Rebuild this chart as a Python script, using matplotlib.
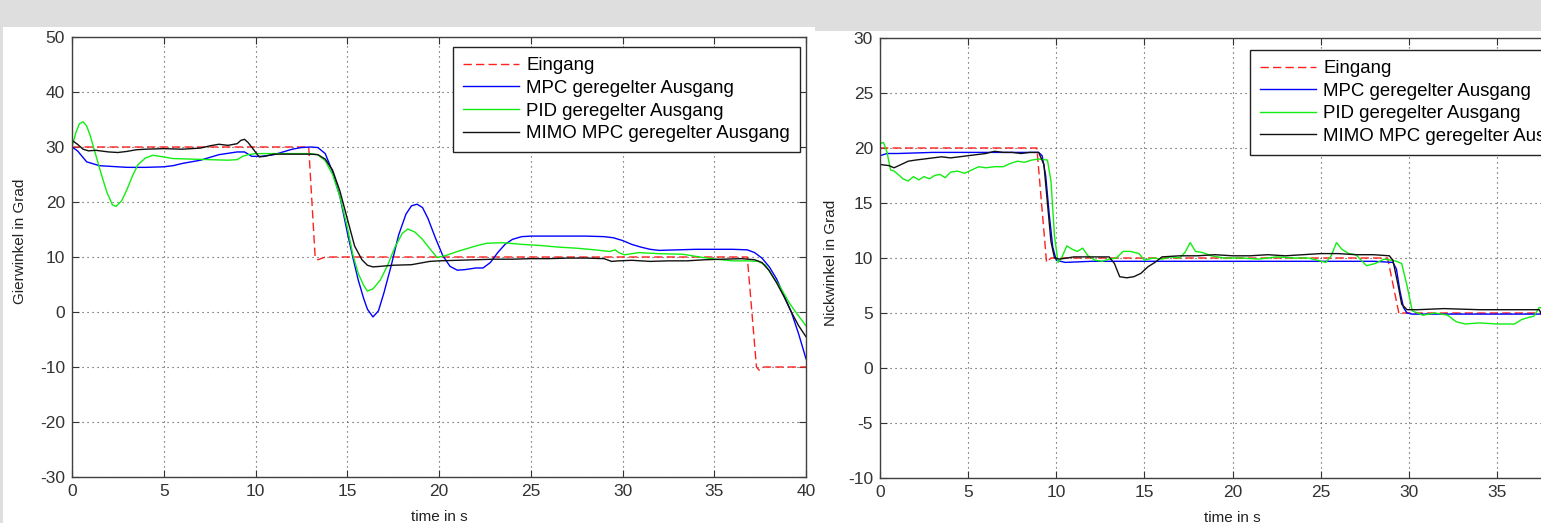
import matplotlib
matplotlib.use("Agg")
from matplotlib import pyplot as plt
from matplotlib.patches import Rectangle

plt.rcParams['font.family'] = ['Liberation Sans', 'DejaVu Sans']
plt.rcParams['axes.unicode_minus'] = False

labels = ['Eingang', 'MPC geregelter Ausgang', 'PID geregelter Ausgang', 'MIMO MPC geregelter Ausgang']

# Gierwinkel (left panel)
yaw_in_t = [0, 12.9, 13.25, 13.4, 13.8, 36.8, 37.3, 37.45, 37.7, 40]
yaw_in = [30, 30, 10, 9.5, 10, 10, -10, -10.6, -10, -10]

yaw_mpc_t = [0, 0.3, 0.8, 1.5, 2, 3, 4, 5, 5.5, 6, 7, 8, 9, 9.4, 9.8, 10.3, 11, 11.5, 12, 12.5, 13,
             13.4, 13.8, 14.2, 14.6, 15.0, 15.3, 15.6, 15.9, 16.1, 16.4, 16.7, 17.0, 17.4, 17.8, 18.2,
             18.5, 18.8, 19.1, 19.4, 19.8, 20.2, 20.6, 21.0, 21.4, 22.0, 22.4, 22.8, 23.2, 23.6, 24.0,
             24.5, 25, 26, 27, 28, 29, 29.5, 30, 30.5, 31, 31.5, 32, 33, 34, 35, 36, 36.8, 37.2, 37.6,
             38.0, 38.4, 38.8, 39.2, 39.6, 40]
yaw_mpc = [30, 29.3, 27.3, 26.6, 26.5, 26.3, 26.3, 26.4, 26.6, 27.0, 27.6, 28.6, 29.1, 29.1, 28.3, 28.3,
           28.6, 29.1, 29.6, 29.9, 30.0, 29.9, 28.8, 25.5, 21.0, 14.5, 10.0, 5.8, 2.4, 0.5, -0.9, 0.2,
           3.5, 8.5, 14.0, 17.8, 19.3, 19.6, 19.0, 17.0, 13.5, 10.3, 8.3, 7.6, 7.7, 8.0, 8.0, 9.0, 10.8,
           12.3, 13.2, 13.7, 13.8, 13.8, 13.8, 13.8, 13.7, 13.5, 13.0, 12.3, 11.8, 11.4, 11.2, 11.3,
           11.4, 11.4, 11.4, 11.3, 10.8, 9.8, 8.2, 6.0, 3.0, 0.0, -4.0, -8.5]

yaw_pid_t = [0, 0.2, 0.4, 0.6, 0.8, 1.0, 1.3, 1.6, 1.9, 2.2, 2.4, 2.7, 3.0, 3.3, 3.6, 4.0, 4.4, 4.8, 5.5,
             6.5, 7.5, 8.5, 9.0, 9.3, 9.6, 10, 11, 12, 13, 13.4, 13.8, 14.2, 14.6, 15.0, 15.3, 15.6, 15.9,
             16.1, 16.4, 16.8, 17.2, 17.6, 18.0, 18.3, 18.7, 19.1, 19.5, 19.9, 20.4, 21, 22, 22.6, 23.5,
             24.5, 25.5, 26.5, 27.5, 28.5, 29.3, 29.6, 29.8, 30.1, 30.9, 32, 33.3, 34.2, 35.1, 36, 36.8,
             37.4, 37.8, 38.2, 38.6, 39.1, 39.5, 40]
yaw_pid = [30, 32.5, 34.2, 34.6, 33.8, 32.0, 28.5, 25.0, 21.8, 19.5, 19.2, 20.2, 22.3, 24.8, 26.8, 28.0,
           28.5, 28.3, 27.9, 27.8, 27.7, 27.6, 27.7, 28.3, 28.6, 28.8, 28.8, 28.8, 28.8, 28.6, 27.5, 25.0,
           21.0, 15.5, 10.5, 7.0, 4.8, 3.8, 4.2, 5.8, 8.5, 11.8, 14.3, 15.1, 14.5, 13.2, 11.5, 9.9, 10.3,
           11.0, 12.0, 12.5, 12.6, 12.3, 12.1, 11.8, 11.6, 11.3, 11.0, 11.3, 10.8, 10.4, 10.8, 10.6, 10.5,
           10.0, 9.6, 9.3, 9.3, 9.2, 8.5, 6.4, 4.5, 1.6, -0.3, -2.5]

yaw_mimo_t = [0, 0.3, 0.6, 0.9, 1.3, 2, 2.5, 3, 3.5, 4, 5, 6, 7, 7.5, 8, 8.5, 9, 9.2, 9.4, 9.6, 9.9, 10.2,
              10.5, 11, 12, 13, 13.4, 13.8, 14.2, 14.6, 15.0, 15.4, 15.8, 16.1, 16.4, 16.8, 17.5, 18.5,
              19.5, 20, 21, 22, 23, 24, 25, 26, 27, 28, 29, 29.4, 29.8, 30.5, 31.5, 32.5, 33.5, 34.5, 35.5,
              36.5, 37.2, 37.6, 38.0, 38.4, 38.8, 39.2, 39.6, 40]
yaw_mimo = [31.2, 30.5, 29.6, 29.3, 29.4, 29.1, 29.0, 29.2, 29.5, 29.6, 29.7, 29.6, 29.8, 30.2, 30.5, 30.3,
            30.6, 31.2, 31.4, 30.8, 29.5, 28.2, 28.3, 28.7, 28.7, 28.7, 28.6, 27.8, 25.8, 22.0, 17.0, 12.0,
            9.5, 8.5, 8.2, 8.3, 8.5, 8.6, 9.2, 9.3, 9.4, 9.5, 9.6, 9.6, 9.7, 9.7, 9.8, 9.8, 9.7, 9.2, 9.3,
            9.4, 9.2, 9.3, 9.3, 9.5, 9.6, 9.7, 9.5, 9.0, 7.5, 5.3, 2.8, 0.0, -2.5, -4.5]

# Nickwinkel (right panel)
pitch_in_t = [0, 8.9, 9.45, 9.7, 28.8, 29.45, 29.7, 40]
pitch_in = [20, 20, 9.6, 10, 10, 4.9, 5, 5]

pitch_mpc_t = [0, 0.4, 1, 3, 5, 7, 8, 9.0, 9.2, 9.4, 9.6, 9.8, 10.0, 10.5, 12, 15, 20, 25, 28, 29.1, 29.3,
               29.5, 29.7, 29.9, 30.2, 31, 35, 40]
pitch_mpc = [19.3, 19.5, 19.5, 19.6, 19.6, 19.6, 19.6, 19.6, 19.3, 17.5, 14.0, 11.0, 9.8, 9.6, 9.7, 9.7,
             9.7, 9.7, 9.7, 9.6, 9.0, 7.0, 5.5, 5.0, 4.9, 4.9, 4.9, 4.9]

pitch_pid_t = [0, 0.2, 0.4, 0.6, 0.8, 1.1, 1.3, 1.6, 1.9, 2.2, 2.5, 2.8, 3.1, 3.4, 3.7, 4.0, 4.4, 4.8, 5.2,
               5.6, 6.0, 6.5, 7.0, 7.4, 7.8, 8.2, 8.6, 9.0, 9.5, 9.7, 9.9, 10.1, 10.3, 10.6, 10.9, 11.2,
               11.5, 11.8, 12.2, 12.6, 13.0, 13.4, 13.8, 14.2, 14.7, 15.0, 15.5, 16.0, 16.5, 17.0, 17.3,
               17.6, 17.9, 18.3, 18.8, 19.5, 20.5, 21.5, 22.5, 23.5, 24.3, 24.8, 25.3, 25.6, 25.9, 26.2,
               26.6, 27.0, 27.6, 28.1, 28.6, 29.0, 29.3, 29.6, 29.9, 30.2, 30.8, 31.5, 32.2, 32.7, 33.2,
               34, 35, 36.0, 36.4, 36.8, 37.1, 37.4, 37.8, 38.5, 39.2, 40]
pitch_pid = [20.4, 20.5, 19.6, 18.0, 17.9, 17.5, 17.2, 17.0, 17.4, 17.1, 17.4, 17.2, 17.5, 17.6, 17.3,
             17.8, 17.9, 17.7, 18.0, 18.3, 18.2, 18.3, 18.3, 18.6, 18.8, 18.7, 18.9, 19.0, 18.9, 17.0,
             12.0, 9.6, 10.0, 11.1, 10.8, 10.6, 10.9, 10.2, 9.8, 9.7, 9.9, 10.0, 10.6, 10.6, 10.4, 9.8,
             10.0, 9.9, 10.1, 10.0, 10.5, 11.4, 10.6, 10.5, 10.2, 10.0, 10.0, 9.9, 10.1, 10.0, 10.0, 9.8,
             9.6, 10.2, 11.4, 10.8, 10.4, 10.3, 9.3, 9.5, 9.9, 9.8, 9.7, 9.5, 7.5, 5.2, 4.8, 5.0, 4.8,
             4.2, 4.0, 4.1, 4.0, 4.0, 4.4, 4.6, 4.7, 5.5, 5.4, 5.2, 5.3, 5.2]

pitch_mimo_t = [0, 0.5, 0.8, 1.2, 1.6, 2.0, 2.5, 3.0, 3.5, 4.0, 4.5, 5.0, 5.5, 6.0, 6.5, 7.0, 7.5, 8.0, 8.5,
                9.0, 9.3, 9.5, 9.7, 9.9, 10.2, 11, 12, 13.0, 13.3, 13.6, 14.0, 14.4, 14.8, 15.2, 15.6, 16.0,
                17, 18, 19, 20, 21, 22, 23, 24, 25, 26, 27, 28, 28.9, 29.1, 29.4, 29.6, 29.9, 30.5, 32, 34,
                36, 37.4, 37.6, 38, 40]
pitch_mimo = [18.5, 18.4, 18.2, 18.5, 18.8, 18.9, 19.0, 19.1, 19.2, 19.1, 19.2, 19.3, 19.4, 19.5, 19.7,
              19.6, 19.6, 19.5, 19.6, 19.6, 18.5, 15.0, 11.5, 10.0, 9.9, 10.1, 10.1, 10.1, 9.5, 8.3, 8.2,
              8.3, 8.6, 9.2, 9.6, 10.1, 10.2, 10.2, 10.3, 10.2, 10.2, 10.3, 10.2, 10.3, 10.4, 10.4, 10.3,
              10.3, 10.2, 9.8, 7.5, 5.8, 5.3, 5.3, 5.4, 5.3, 5.3, 5.3, 4.7, 4.8, 4.8]

W, H = 1541, 523
fig = plt.figure(figsize=(W / 100, H / 100), dpi=100)
fig.patch.set_facecolor('#dedede')
# white screenshot panels, kept behind the axes
fig.patches.append(Rectangle((3 / W, 0), (815 - 3) / W, (H - 27) / H, transform=fig.transFigure,
                             facecolor='white', edgecolor='none', zorder=-10))
fig.patches.append(Rectangle((815 / W, 0), (W - 815) / W, (H - 31) / H, transform=fig.transFigure,
                             facecolor='white', edgecolor='none', zorder=-10))


def style_axes(ax, ylim, yticks):
    ax.set_xlim(0, 40)
    ax.set_ylim(*ylim)
    ax.set_xticks(range(0, 41, 5))
    ax.set_yticks(yticks)
    ax.grid(True, color='#444444', linestyle=(0, (1, 3.5)), linewidth=0.8)
    ax.tick_params(direction='in', length=5, top=True, right=True, labelsize=12.5,
                   colors='#333333', pad=5)
    for s in ax.spines.values():
        s.set_color('#404040')
        s.set_linewidth(1.0)
    ax.set_xlabel('time in s', fontsize=11, color='#222222', labelpad=8)


def draw(ax, series):
    for (t, v), c, ls, lab in zip(series, ['#ff2020', '#0000ff', '#11ee11', '#111111'],
                                  ['--', '-', '-', '-'], labels):
        ax.plot(t, v, color=c, linestyle=ls, linewidth=1.0, label=lab,
                dashes=(6, 3) if ls == '--' else (None, None))


def add_legend(ax, loc, anchor):
    ax.legend(loc=loc, bbox_to_anchor=anchor, borderaxespad=0, fontsize=13.4,
              fancybox=False, edgecolor='#222222', framealpha=1, handlelength=3.0,
              handletextpad=0.38, labelspacing=0.3, borderpad=0.55)


ax1 = fig.add_axes([72 / W, (H - 477) / H, 734 / W, 440 / H], zorder=1)
draw(ax1, [(yaw_in_t, yaw_in), (yaw_mpc_t, yaw_mpc), (yaw_pid_t, yaw_pid), (yaw_mimo_t, yaw_mimo)])
style_axes(ax1, (-30, 50), range(-30, 51, 10))
ax1.set_ylabel('Gierwinkel in Grad', fontsize=11, color='#222222')
ax1.yaxis.set_label_coords(-0.061, 0.535)
add_legend(ax1, 'upper right', (0.992, 0.977))

ax2 = fig.add_axes([880 / W, (H - 478) / H, 705 / W, 440 / H], zorder=1)
draw(ax2, [(pitch_in_t, pitch_in), (pitch_mpc_t, pitch_mpc), (pitch_pid_t, pitch_pid),
           (pitch_mimo_t, pitch_mimo)])
style_axes(ax2, (-10, 30), range(-10, 31, 5))
ax2.set_ylabel('Nickwinkel in Grad', fontsize=11, color='#222222')
ax2.yaxis.set_label_coords(-0.06, 0.49)
add_legend(ax2, 'upper left', (0.525, 0.973))

fig.savefig('out.png', dpi=100)
